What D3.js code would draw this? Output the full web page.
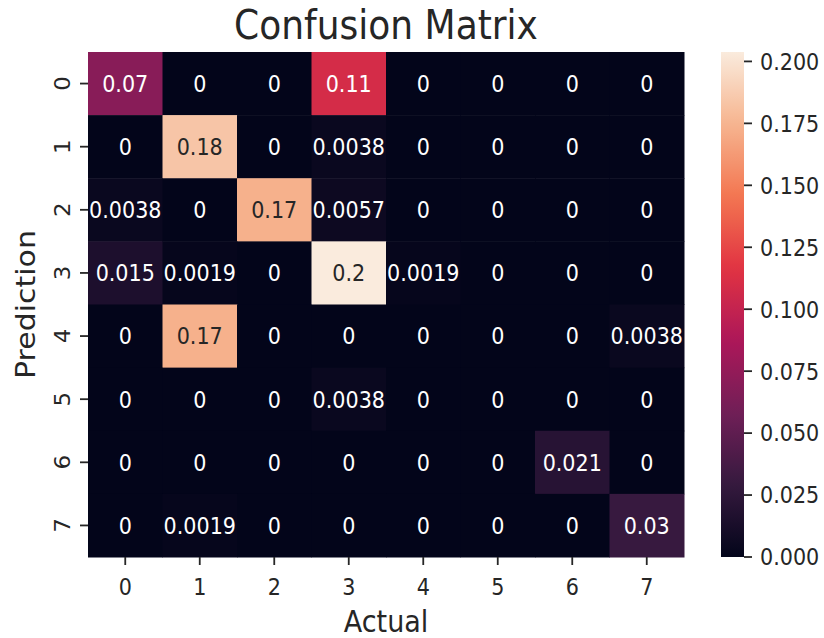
<!DOCTYPE html>
<html>
<head>
<meta charset="utf-8">
<script src="https://cdn.jsdelivr.net/npm/d3@7"></script>
<style>
  html, body { margin: 0; padding: 0; background: #fff; }
  svg { display: block; font-family: "DejaVu Sans", sans-serif; }
</style>
</head>
<body>
<svg id="chart" width="824" height="638"></svg>
<script>
// ---- data ----
const actualLabels = ["0", "1", "2", "3", "4", "5", "6", "7"];
const predictionLabels = ["0", "1", "2", "3", "4", "5", "6", "7"];
// rows = Prediction, columns = Actual
const row0 = [0.0698, 0, 0, 0.1094, 0, 0, 0, 0];
const row1 = [0, 0.1835, 0, 0.0038, 0, 0, 0, 0];
const row2 = [0.0038, 0, 0.1735, 0.0057, 0, 0, 0, 0];
const row3 = [0.0151, 0.0019, 0, 0.2038, 0.0019, 0, 0, 0];
const row4 = [0, 0.1735, 0, 0, 0, 0, 0, 0.0038];
const row5 = [0, 0, 0, 0.0038, 0, 0, 0, 0];
const row6 = [0, 0, 0, 0, 0, 0, 0.0208, 0];
const row7 = [0, 0.0019, 0, 0, 0, 0, 0, 0.0302];
const matrix = [row0, row1, row2, row3, row4, row5, row6, row7];
const colorbarTicks = [0, 0.025, 0.05, 0.075, 0.1, 0.125, 0.15, 0.175, 0.2];
const rocketStops = ["#03051a", "#35193e", "#701f57", "#ad1759", "#e13342", "#f37651", "#f6b48f", "#faebdd"];
const titleText = "Confusion Matrix";
const xTitle = "Actual";
const yTitle = "Prediction";

// ---- layout ----
const L = 88, R = 684, T = 52, B = 557;
const cbX = 721, cbW = 23;
const SX = 0.9;            // horizontal text squeeze seen in reference
const ink = "#262626";

const svg = d3.select("#chart");
const vmax = d3.max(matrix.flat());
const interp = d3.piecewise(d3.interpolateRgb, rocketStops);
const color = v => interp(Math.max(0, Math.min(1, v / vmax)));

const x = d3.scaleBand().domain(actualLabels).range([L, R]).padding(0);
const y = d3.scaleBand().domain(predictionLabels).range([T, B]).padding(0);

function txt(parent, px, py, s, size, anchor, rot, fill) {
  const g = parent.append("g")
    .attr("transform", `translate(${px},${py}) scale(${SX},1)` + (rot ? ` rotate(${rot})` : ""));
  g.append("text")
    .attr("text-anchor", anchor)
    .attr("font-size", size)
    .attr("fill", fill || ink)
    .text(s);
  return g;
}

function lum(c) {
  const rgb = d3.rgb(c);
  const f = v => { v /= 255; return v <= 0.03928 ? v / 12.92 : Math.pow((v + 0.055) / 1.055, 2.4); };
  return 0.2126 * f(rgb.r) + 0.7152 * f(rgb.g) + 0.0722 * f(rgb.b);
}

const fmt = d3.format(".2~g");
const cells = [];
matrix.forEach((row, i) => row.forEach((v, j) => cells.push({ i, j, v })));

svg.append("g").selectAll("rect").data(cells).join("rect")
  .attr("x", d => x(actualLabels[d.j]))
  .attr("y", d => y(predictionLabels[d.i]))
  .attr("width", x.bandwidth() + 0.5)
  .attr("height", y.bandwidth() + 0.5)
  .attr("fill", d => color(d.v));

const annG = svg.append("g");
const annSize = 23;
cells.forEach(d => {
  const c = color(d.v);
  txt(annG, x(actualLabels[d.j]) + x.bandwidth() / 2,
      y(predictionLabels[d.i]) + y.bandwidth() / 2 + annSize * 0.729 / 2,
      fmt(d.v), annSize, "middle", 0, lum(c) > 0.408 ? ink : "#ffffff");
});

// ---- axes ----
const axG = svg.append("g");
const tickLen = 8, tickW = 1.8, tickSize = 23;
actualLabels.forEach(lab => {
  const cx = x(lab) + x.bandwidth() / 2;
  axG.append("line").attr("x1", cx).attr("x2", cx).attr("y1", B).attr("y2", B + tickLen)
    .attr("stroke", ink).attr("stroke-width", tickW);
  txt(axG, cx, 594.5, lab, tickSize, "middle", 0);
});
predictionLabels.forEach(lab => {
  const cy = y(lab) + y.bandwidth() / 2;
  axG.append("line").attr("x1", L - tickLen).attr("x2", L).attr("y1", cy).attr("y2", cy)
    .attr("stroke", ink).attr("stroke-width", tickW);
  txt(axG, 70, cy, lab, tickSize, "middle", -90);
});

txt(svg, (L + R) / 2, 631.5, xTitle, 30, "middle", 0);
txt(svg, 35, (T + B) / 2, yTitle, 30, "middle", -90);
txt(svg, (L + R) / 2, 39, titleText, 40, "middle", 0);

// ---- colorbar ----
const cbScale = d3.scaleLinear().domain([0, vmax]).range([B, T]);
const defs = svg.append("defs");
const grad = defs.append("linearGradient").attr("id", "cbgrad")
  .attr("x1", 0).attr("y1", 1).attr("x2", 0).attr("y2", 0);
d3.range(0, 1.0001, 0.02).forEach(t => {
  grad.append("stop").attr("offset", t).attr("stop-color", interp(t));
});
svg.append("rect").attr("x", cbX).attr("y", T).attr("width", cbW).attr("height", B - T)
  .attr("fill", "url(#cbgrad)");
const cbG = svg.append("g");
colorbarTicks.forEach(t => {
  const ty = cbScale(t);
  cbG.append("line").attr("x1", cbX + cbW).attr("x2", cbX + cbW + tickLen)
    .attr("y1", ty).attr("y2", ty).attr("stroke", ink).attr("stroke-width", tickW);
  txt(cbG, cbX + cbW + tickLen + 8, ty + tickSize * 0.729 / 2, d3.format(".3f")(t), tickSize, "start", 0);
});
</script>
</body>
</html>
